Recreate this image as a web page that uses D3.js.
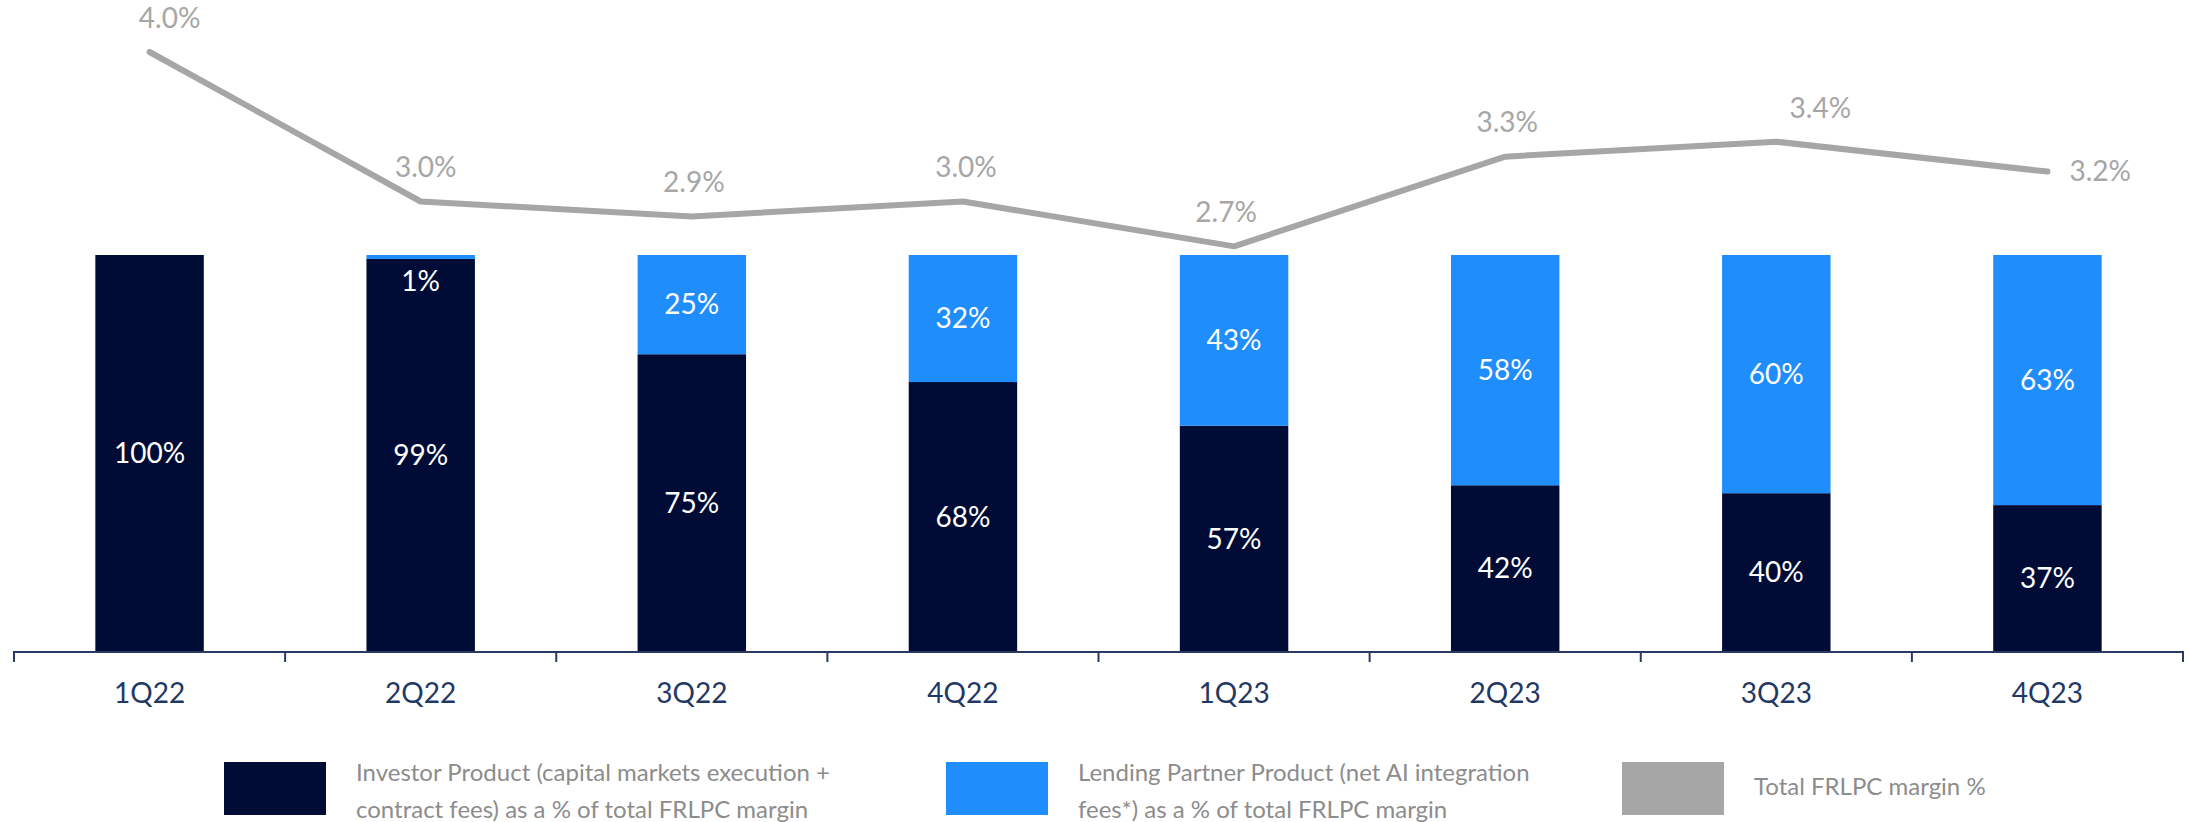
<!DOCTYPE html>
<html>
<head>
<meta charset="utf-8">
<script src="https://cdn.jsdelivr.net/npm/d3@7"></script>
<style>
  body { margin: 0; background: #fff; }
  svg { display: block; font-family: Lato, "Open Sans", sans-serif; }
</style>
</head>
<body>
<svg id="chart" width="2190" height="822"></svg>
<script>
// quarters and series (shares of total FRLPC margin, margin in %)
var quarters = ["1Q22", "2Q22", "3Q22", "4Q22", "1Q23", "2Q23", "3Q23", "4Q23"];
var investorShare = [100, 99, 75, 68, 57, 42, 40, 37];
var lendingShare = [0, 1, 25, 32, 43, 58, 60, 63];
var marginPct = [4.0, 3.0, 2.9, 3.0, 2.7, 3.3, 3.4, 3.2];

// manual nudges for the margin labels (Excel had them hand-placed)
var labelDx = [20, 5, 2, 3, -8, 2, 44, 0];

var navy = "#000c36", blue = "#1f8dfc", grey = "#a6a6a6";

var svg = d3.select("#chart");

var x = d3.scaleBand()
    .domain(quarters)
    .range([14, 2183])
    .paddingInner(0)
    .paddingOuter(0);

var barW = x.bandwidth() * 0.4;

var yBar = d3.scaleLinear().domain([0, 100]).range([652, 255]);
var yLine = d3.scaleLinear().domain([0, 4]).range([650, 52]);

var rows = quarters.map(function (q, i) {
    return {q: q, inv: investorShare[i], lend: lendingShare[i], m: marginPct[i], i: i};
});

// stacked bars
var bars = svg.append("g").attr("class", "bars");

bars.selectAll(".inv")
    .data(rows)
    .enter().append("rect")
    .attr("class", "inv")
    .attr("x", function (d) { return x(d.q) + (x.bandwidth() - barW) / 2; })
    .attr("width", barW)
    .attr("y", function (d) { return yBar(d.inv); })
    .attr("height", function (d) { return yBar(0) - yBar(d.inv); })
    .style("fill", navy);

bars.selectAll(".lend")
    .data(rows.filter(function (d) { return d.lend > 0; }))
    .enter().append("rect")
    .attr("class", "lend")
    .attr("x", function (d) { return x(d.q) + (x.bandwidth() - barW) / 2; })
    .attr("width", barW)
    .attr("y", function (d) { return yBar(d.inv + d.lend); })
    .attr("height", function (d) { return yBar(d.inv) - yBar(d.inv + d.lend); })
    .style("fill", blue);

// labels inside the bars
var lab = svg.append("g")
    .style("font-size", "28px")
    .style("fill", "#ffffff")
    .attr("text-anchor", "middle");

lab.selectAll(".invlab")
    .data(rows)
    .enter().append("text")
    .attr("x", function (d) { return x(d.q) + x.bandwidth() / 2; })
    .attr("y", function (d) { return (yBar(d.inv) + yBar(0)) / 2; })
    .attr("dy", "0.35em")
    .text(function (d) { return d.inv + "%"; });

lab.selectAll(".lendlab")
    .data(rows.filter(function (d) { return d.lend > 0; }))
    .enter().append("text")
    .attr("x", function (d) { return x(d.q) + x.bandwidth() / 2; })
    .attr("y", function (d) {
        var top = yBar(d.inv + d.lend), bot = yBar(d.inv);
        // too thin to hold the label: drop it just under the bar top
        if (bot - top < 30) { return top + 26; }
        return (top + bot) / 2;
    })
    .attr("dy", "0.35em")
    .text(function (d) { return d.lend + "%"; });

// margin line
var line = d3.line()
    .x(function (d) { return x(d.q) + x.bandwidth() / 2; })
    .y(function (d) { return yLine(d.m); });

svg.append("path")
    .datum(rows)
    .attr("d", line)
    .style("fill", "none")
    .style("stroke", grey)
    .style("stroke-width", 6)
    .style("stroke-linecap", "round")
    .style("stroke-linejoin", "round");

svg.append("g")
    .style("font-size", "28px")
    .style("fill", grey)
    .selectAll("text")
    .data(rows)
    .enter().append("text")
    .attr("text-anchor", function (d) { return d.i == rows.length - 1 ? "start" : "middle"; })
    .attr("x", function (d) {
        var cx = x(d.q) + x.bandwidth() / 2;
        return d.i == rows.length - 1 ? cx + 22 : cx + labelDx[d.i];
    })
    .attr("y", function (d) {
        return d.i == rows.length - 1 ? yLine(d.m) : yLine(d.m) - 34;
    })
    .attr("dy", "0.35em")
    .text(function (d) { return d.m.toFixed(1) + "%"; });

// category axis with ticks between the bands
var axis = svg.append("g").attr("class", "axis");
axis.append("line")
    .attr("x1", x.range()[0]).attr("x2", x.range()[1])
    .attr("y1", 652).attr("y2", 652)
    .style("stroke", "#2b3a63")
    .style("stroke-width", 2);

var edges = quarters.map(function (q) { return x(q); }).concat([x.range()[1]]);
axis.selectAll(".tick")
    .data(edges)
    .enter().append("line")
    .attr("x1", function (d) { return d; }).attr("x2", function (d) { return d; })
    .attr("y1", 651).attr("y2", 662)
    .style("stroke", "#2b3a63")
    .style("stroke-width", 2);

axis.selectAll(".qlab")
    .data(quarters)
    .enter().append("text")
    .attr("x", function (d) { return x(d) + x.bandwidth() / 2; })
    .attr("y", 703)
    .attr("text-anchor", "middle")
    .style("font-size", "28px")
    .style("fill", "#1f3864")
    .text(function (d) { return d; });

// legend
var legendItems = [
    {color: navy, x: 224, lines: ["Investor Product (capital markets execution +", "contract fees) as a % of total FRLPC margin"]},
    {color: blue, x: 946, lines: ["Lending Partner Product (net AI integration", "fees*) as a % of total FRLPC margin"]},
    {color: grey, x: 1622, lines: ["Total FRLPC margin %"]}
];

var leg = svg.append("g").attr("class", "legend");
var item = leg.selectAll("g")
    .data(legendItems)
    .enter().append("g")
    .attr("transform", function (d) { return "translate(" + d.x + ",0)"; });

item.append("rect")
    .attr("y", 762)
    .attr("width", 102)
    .attr("height", 53)
    .style("fill", function (d) { return d.color; });

item.append("text")
    .attr("x", 132)
    .style("font-size", "24px")
    .style("fill", "#8c8c8c")
    .selectAll("tspan")
    .data(function (d) { return d.lines.map(function (t) { return {t: t, n: d.lines.length}; }); })
    .enter().append("tspan")
    .attr("x", 132)
    .attr("y", function (d, i) { return d.n == 1 ? 795 : 781 + i * 37; })
    .text(function (d) { return d.t; });
</script>
</body>
</html>
